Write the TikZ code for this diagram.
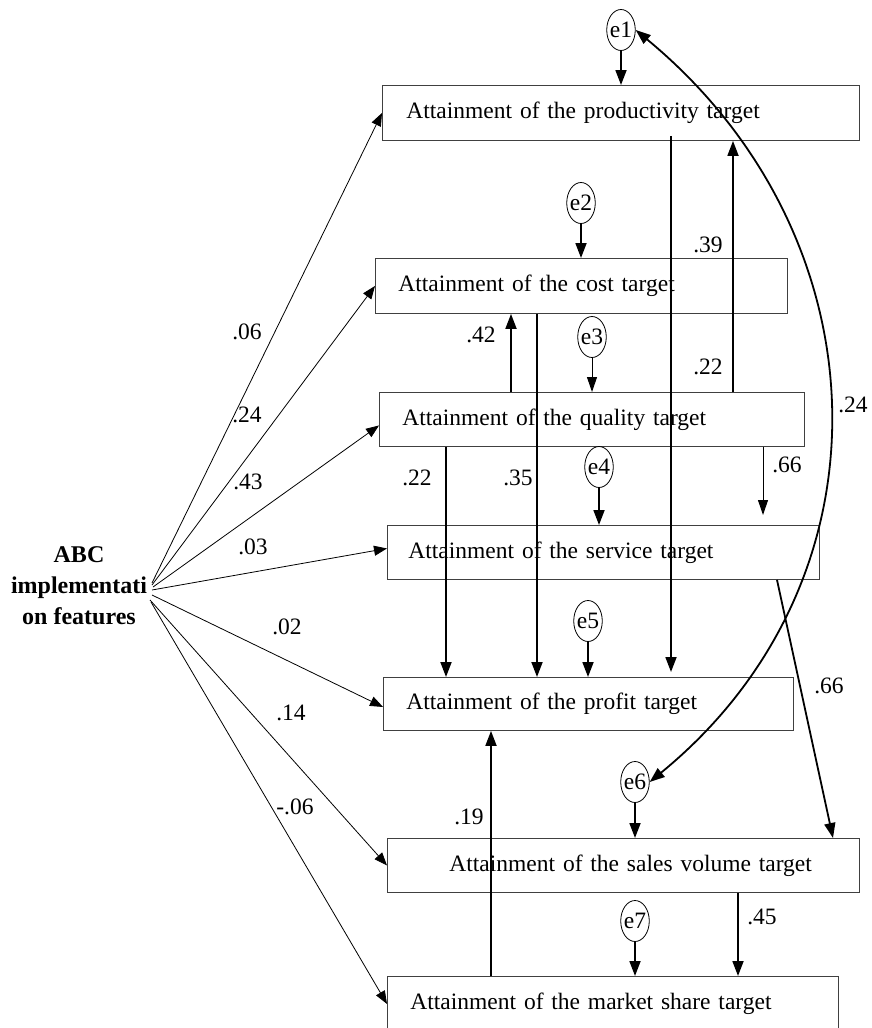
\documentclass[tikz,border=0pt]{standalone}
\usepackage{fontspec}
\setmainfont{Liberation Serif}
\usetikzlibrary{arrows.meta,shapes.geometric}
\begin{document}
\begin{tikzpicture}[x=1pt,y=-1pt,
  every node/.style={font=\fontsize{23.5}{28}\selectfont},
  tbox/.style={draw=black!75, line width=0.9pt, anchor=north west, inner xsep=0pt, inner ysep=0pt, align=left},
  err/.style={ellipse, draw, line width=0.8pt, inner xsep=-1pt, inner ysep=0pt, minimum height=41pt},
  lbl/.style={inner sep=0pt},
  thickarr/.style={line width=1.8pt, -{Triangle[length=15pt,width=11pt]}},
  thinarr/.style={line width=1pt, -{Triangle[length=15pt,width=10pt]}},
  fanarr/.style={line width=0.8pt, -{Triangle[length=13pt,width=10pt]}},
  dblarr/.style={line width=1.8pt, {Triangle[length=15pt,width=11pt]}-{Triangle[length=15pt,width=11pt]}}
]
\useasboundingbox (0,0) rectangle (871,1028);
\clip (0,0) rectangle (871,1028);

% target boxes
\node[tbox, minimum height=55pt, text width=477pt] (prod) at (382,85) {\hspace*{24pt}Attainment of the productivity target};
\node[tbox, minimum height=55pt, text width=412pt] (cost) at (375,258) {\hspace*{23pt}Attainment of the cost target};
\node[tbox, minimum height=54pt, text width=425pt] (quality) at (379,392) {\hspace*{23pt}Attainment of the quality target};
\node[tbox, minimum height=54pt, text width=432pt] (service) at (387,525) {\hspace*{21pt}Attainment of the service target};
\node[tbox, minimum height=53pt, text width=410pt] (profit) at (383,677) {\hspace*{23pt}Attainment of the profit target};
\node[tbox, minimum height=54pt, text width=472pt] (sales) at (387,838) {\hspace*{62pt}Attainment of the sales volume target};
\node[tbox, minimum height=55pt, text width=451pt] (market) at (387,976) {\hspace*{23pt}Attainment of the market share target};

% error terms
\node[err] (e1) at (621,30) {e1};
\node[err] (e2) at (581,203) {e2};
\node[err] (e3) at (592,337) {e3};
\node[err] (e4) at (599,467) {e4};
\node[err] (e5) at (588,621) {e5};
\node[err] (e6) at (635,782) {e6};
\node[err] (e7) at (635,921) {e7};

% exogenous variable
\node[align=center, font=\bfseries\fontsize{24}{31}\selectfont, inner sep=0pt] (abc) at (79,586) {ABC\\implementati\\on features};

\coordinate (s1) at (152,583);
\coordinate (s2) at (152,585);
\coordinate (s3) at (153,587);
\coordinate (s4) at (152,590);
\coordinate (s5) at (152,595);
\coordinate (s6) at (150,600);
\coordinate (s7) at (151,602);

% fan arrows
\draw[fanarr] (s1) -- (prod.west);
\draw[fanarr] (s2) -- (cost.west);
\draw[fanarr] (s3) -- ([yshift=-6pt]quality.west);
\draw[fanarr] (s4) -- ([yshift=4pt]service.west);
\draw[fanarr] (s5) -- ([yshift=-3pt]profit.west);
\draw[fanarr] (s6) -- (sales.west);
\draw[fanarr] (s7) -- (market.west);

\node[lbl] (l06) at (247,332) {.06};
\node[lbl] (l24a) at (247,415) {.24};
\node[lbl] (l43) at (248,482) {.43};
\node[lbl] (l03) at (253,547) {.03};
\node[lbl] (l02) at (287,627) {.02};
\node[lbl] (l14) at (291,713) {.14};
\node[lbl] (lm06) at (295,807) {-.06};

% error arrows
\draw[thickarr] (e1.south) -- (prod.north -| e1.south);
\draw[thickarr] (e2.south) -- (cost.north -| e2.south);
\draw[thinarr] (e3.south) -- (quality.north -| e3.south);
\draw[thickarr] (e4.south) -- (service.north -| e4.south);
\draw[thickarr] (e5.south) -- (profit.north -| e5.south);
\draw[thickarr] (e6.south) -- (sales.north -| e6.south);
\draw[thickarr] (e7.south) -- (market.north -| e7.south);

% paths between targets
\draw[thickarr] ([yshift=5pt]prod.south -| 671,0) -- ([yshift=5pt]profit.north -| 671,0);
\draw[thickarr] (quality.north -| 733,0) -- (prod.south -| 733,0);
\draw[thickarr] (quality.north -| 511,0) -- (cost.south -| 511,0);
\draw[thickarr] (cost.south -| 537,0) -- (profit.north -| 537,0);
\draw[thickarr] (quality.south -| 446,0) -- (profit.north -| 446,0);
\draw[thinarr] (quality.south -| 763,0) -- ([yshift=10pt]service.north -| 763,0);
\draw[thickarr] (service.south -| 777,0) -- (sales.north -| 833,0);
\draw[thickarr] (sales.south -| 738,0) -- (market.north -| 738,0);
\draw[thickarr] (market.north -| 491,0) -- (profit.south -| 491,0);

% covariance
\draw[dblarr] (e1.east) .. controls (884,235) and (899,578) .. (e6.east);

% coefficient labels
\node[lbl] (l39) at (708,245) {.39};
\node[lbl] (l22a) at (708,367) {.22};
\node[lbl] (l42) at (481,335) {.42};
\node[lbl] (l22b) at (417,478) {.22};
\node[lbl] (l35) at (518,478) {.35};
\node[lbl] (l66a) at (787,465) {.66};
\node[lbl] (l66b) at (829,686) {.66};
\node[lbl] (l24b) at (853,405) {.24};
\node[lbl] (l19) at (469,817) {.19};
\node[lbl] (l45) at (762,917) {.45};
\end{tikzpicture}
\end{document}
